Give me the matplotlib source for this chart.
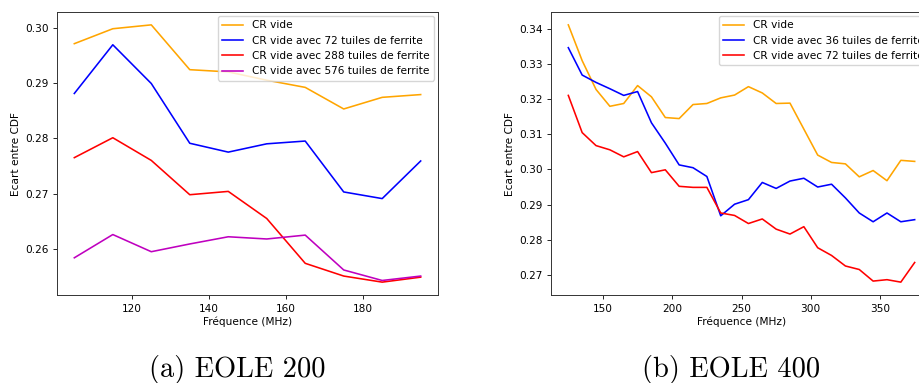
import numpy as np
import matplotlib.pyplot as plt

# EOLE 200
freq_200 = [105, 115, 125, 135, 145, 155, 165, 175, 185, 195]
vide_200 = [0.2971, 0.2998, 0.3005, 0.2924, 0.2920, 0.2905, 0.2892, 0.2853, 0.2874, 0.2879]
f72_200 = [0.2881, 0.2969, 0.2899, 0.2791, 0.2775, 0.2790, 0.2795, 0.2703, 0.2691, 0.2759]
f288_200 = [0.2765, 0.2801, 0.2760, 0.2698, 0.2704, 0.2655, 0.2574, 0.2551, 0.2540, 0.2549]
f576_200 = [0.2584, 0.2626, 0.2595, 0.2609, 0.2622, 0.2618, 0.2625, 0.2562, 0.2543, 0.2551]

# EOLE 400
freq_400 = list(range(125, 376, 10))
vide_400 = [0.3412, 0.3310, 0.3228, 0.3180, 0.3188, 0.3239, 0.3207, 0.3148, 0.3145,
            0.3185, 0.3188, 0.3204, 0.3212, 0.3236, 0.3218, 0.3188, 0.3189, 0.3115,
            0.3041, 0.3020, 0.3016, 0.2979, 0.2997, 0.2968, 0.3026, 0.3023]
f36_400 = [0.3347, 0.3269, 0.3248, 0.3230, 0.3211, 0.3222, 0.3133, 0.3075, 0.3013,
           0.3005, 0.2980, 0.2868, 0.2901, 0.2914, 0.2963, 0.2946, 0.2967, 0.2975,
           0.2950, 0.2958, 0.2919, 0.2876, 0.2851, 0.2876, 0.2851, 0.2857]
f72_400 = [0.3211, 0.3105, 0.3068, 0.3056, 0.3036, 0.3051, 0.2991, 0.2999, 0.2952,
           0.2949, 0.2949, 0.2876, 0.2869, 0.2846, 0.2859, 0.2830, 0.2816, 0.2837,
           0.2777, 0.2755, 0.2725, 0.2715, 0.2682, 0.2686, 0.2679, 0.2735]

plt.rcParams['font.size'] = 7.6
plt.rcParams['axes.linewidth'] = 0.7
plt.rcParams['axes.edgecolor'] = '0.2'
plt.rcParams['xtick.major.width'] = 0.6
plt.rcParams['ytick.major.width'] = 0.6
plt.rcParams['xtick.major.size'] = 2.7
plt.rcParams['ytick.major.size'] = 2.7

fig = plt.figure(figsize=(9.2, 3.83), dpi=100)
ax1 = fig.add_axes([57 / 920, 88 / 383, 381 / 920, 283 / 383])
ax2 = fig.add_axes([551 / 920, 88 / 383, 381 / 920, 283 / 383])

lw = 1.15
ax1.plot(freq_200, vide_200, color='orange', lw=lw, label='CR vide')
ax1.plot(freq_200, f72_200, color='b', lw=lw, label='CR vide avec 72 tuiles de ferrite')
ax1.plot(freq_200, f288_200, color='r', lw=lw, label='CR vide avec 288 tuiles de ferrite')
ax1.plot(freq_200, f576_200, color='m', lw=lw, label='CR vide avec 576 tuiles de ferrite')
ax1.set_xticks([120, 140, 160, 180])

ax2.plot(freq_400, vide_400, color='orange', lw=lw, label='CR vide')
ax2.plot(freq_400, f36_400, color='b', lw=lw, label='CR vide avec 36 tuiles de ferrite')
ax2.plot(freq_400, f72_400, color='r', lw=lw, label='CR vide avec 72 tuiles de ferrite')

for ax in (ax1, ax2):
    ax.set_xlabel('Fréquence (MHz)', labelpad=2)
    ax.set_ylabel('Ecart entre CDF', labelpad=3)
    ax.legend(loc='upper right', borderaxespad=0.4)

# legendes des sous-figures
fig.text(237 / 920, 1 - 369 / 383, '(a) EOLE 200', family='cmr10', fontsize=20.5,
         ha='center', va='center')
fig.text(731 / 920, 1 - 369 / 383, '(b) EOLE 400', family='cmr10', fontsize=20.5,
         ha='center', va='center')

fig.savefig('out.png', dpi=100)
